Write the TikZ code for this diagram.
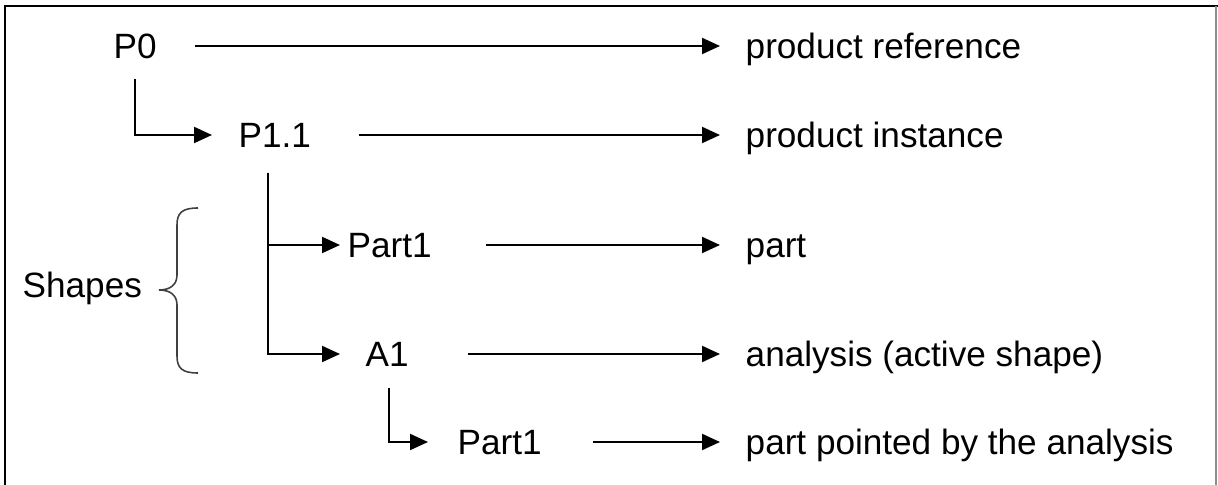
\documentclass[tikz,border=0pt]{standalone}
\usepackage{fontspec}
\setmainfont{Liberation Sans}
\usetikzlibrary{arrows.meta}

\begin{document}
\begin{tikzpicture}[
        lbl/.style={anchor=base west, inner sep=0pt, text height=0.26cm, text depth=0pt, font=\fontsize{10}{12}\selectfont},
        arr/.style={line width=0.6pt, -{Triangle[length=1.8mm, width=1.6mm]}, shorten >=0.25cm}
    ]

            \useasboundingbox (0,0) rectangle (12.18,4.85);

            \draw[line width=0.8pt] (0.05,0) -- (0.05,4.79) -- (12.18,4.79);
            \draw[black!45, line width=0.4pt] (12.16,4.79) -- (12.16,0);

            \node[lbl] (P0) at (1.13, 4.26) {P0};
            \node[lbl] (P11) at (2.38, 3.37) {P1.1};
            \node[lbl] (parta) at (3.47, 2.27) {Part1};
            \node[lbl] (A1) at (3.65, 1.18) {A1};
            \node[lbl] (partb) at (4.57, 0.30) {Part1};
            \node[lbl] (shapes) at (0.22, 1.87) {Shapes};

            \node[lbl] (ref) at (7.45, 4.26) {product reference};
            \node[lbl] (inst) at (7.45, 3.37) {product instance};
            \node[lbl] (part) at (7.45, 2.27) {part};
            \node[lbl] (ana) at (7.45, 1.18) {analysis (active shape)};
            \node[lbl] (pointed) at (7.45, 0.30) {part pointed by the analysis};

            \draw[arr, shorten <=0.38cm] (P0) -- (ref);
            \draw[arr, shorten <=0.47cm] (P11) -- (inst);
            \draw[arr, shorten <=0.54cm] (parta) -- (part);
            \draw[arr, shorten <=0.59cm] (A1) -- (ana);
            \draw[arr, shorten <=0.51cm] (partb) -- (pointed);

            \draw[arr, shorten <=0.19cm, shorten >=0.26cm] (P0.south) |- (P11);
            \draw[arr, shorten <=0.24cm, shorten >=0.07cm] ([xshift=-0.07cm]P11.south) |- (parta);
            \draw[arr, shorten <=0.24cm, shorten >=0.25cm] ([xshift=-0.07cm]P11.south) |- (A1);
            \draw[arr, shorten <=0.20cm, shorten >=0.29cm] ([xshift=0.02cm]A1.south) |- (partb);

            \draw[black!75, line width=0.45pt]
                (1.98,2.77) .. controls (1.82,2.77) and (1.77,2.72) .. (1.77,2.60)
                -- (1.77,2.10) .. controls (1.77,2.00) and (1.70,1.95) .. (1.59,1.95)
                .. controls (1.70,1.95) and (1.77,1.90) .. (1.77,1.80)
                -- (1.77,1.29) .. controls (1.77,1.17) and (1.82,1.12) .. (1.98,1.12);

        \end{tikzpicture}
\end{document}
